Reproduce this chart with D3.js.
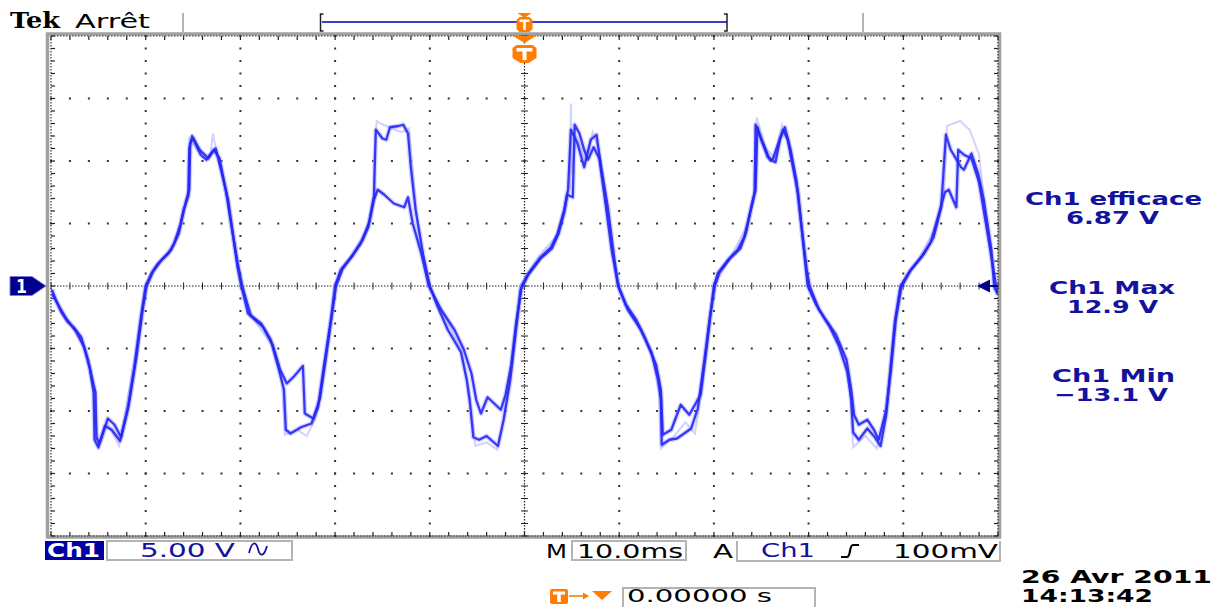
<!DOCTYPE html>
<html><head><meta charset="utf-8">
<script src="https://cdn.jsdelivr.net/npm/d3@7"></script>
<style>body{margin:0;background:#fff}svg{display:block}</style>
</head><body>
<svg id="c" width="1229" height="607"></svg>
<script>
// ---- data ----
const timeGrid = [-50,-40,-30,-20,-10,0,10,20,30,40,50];      // ms, 10 ms/div
const voltGrid = [-20,-15,-10,-5,0,5,10,15,20];               // V, 5 V/div
const measureLabels = ["Ch1 efficace","Ch1 Max","Ch1 Min"];
const measureValues = ["6.87 V","12.9 V","\u221213.1 V"];
const channelInfo = ["Ch1","5.00 V"];
const timebaseInfo = ["M","10.0ms","A","Ch1","100mV"];
const triggerOffset = "0.00000 s";
const dateInfo = ["26 Avr  2011","14:13:42"];

const traceA = [
[-49.9,-0.3],[-49.5,-1.1],[-48.9,-2.1],[-48.2,-2.9],[-47.6,-3.3],[-46.8,-4.1],[-46.1,-5.9],[-45.5,-7.9],[-45.3,-8.5],[-45.2,-12.1],[-44.9,-12.6],[-44.4,-11.5],[-44.0,-10.6],[-43.3,-11.1],[-42.6,-12.1],[-41.9,-9.9],[-41.2,-6.5],[-40.5,-2.5],[-40.0,0],
[-39.4,1.0],[-38.7,1.8],[-37.6,2.6],[-37.0,3.4],[-36.3,5.0],[-35.7,6.9],[-35.4,7.7],[-35.3,11.4],[-35.0,11.8],[-34.2,10.5],[-33.6,10.1],[-33.1,10.6],[-32.6,11.0],[-31.8,8.5],[-31.3,6.9],[-30.8,4.2],[-30.3,1.5],[-29.9,0],
[-29.2,-2.2],[-27.8,-3.0],[-26.8,-4.3],[-26.0,-6.5],[-25.4,-8.3],[-25.2,-11.5],[-24.7,-11.8],[-23.6,-11.3],[-22.5,-11.0],[-21.8,-9.7],[-21.2,-6.5],[-20.4,-2.5],[-20.0,0],
[-19.4,1.3],[-18.3,2.3],[-17.3,3.4],[-16.5,4.7],[-15.9,6.9],[-15.5,7.7],[-14.8,7.3],[-13.8,6.6],[-12.7,6.3],[-12.3,7.1],[-11.8,5.0],[-10.9,2.6],[-10.1,0],
[-8.8,-1.9],[-7.4,-3.5],[-6.4,-5.1],[-5.6,-7.0],[-5.1,-9.1],[-4.6,-10.2],[-3.9,-8.9],[-2.5,-9.9],[-2.0,-8.7],[-1.4,-6.3],[-0.9,-3.1],[-0.3,0],
[0.4,1.0],[1.7,2.3],[2.8,3.1],[3.5,4.2],[4.2,6.1],[4.6,7.7],[4.9,12.5],[5.6,11.4],[6.3,9.5],[7.0,11.7],[7.6,12.1],[8.1,9.5],[8.8,6.3],[9.5,2.1],[9.9,0],
[10.7,-1.5],[11.8,-2.7],[12.8,-4.3],[13.9,-6.3],[14.4,-8.3],[14.6,-11.9],[15.5,-11.5],[16.5,-9.5],[17.4,-10.3],[18.6,-8.7],[19.2,-5.1],[19.7,-1.9],[20.0,0],
[20.4,1.0],[21.5,2.1],[22.5,2.9],[23.2,3.9],[23.9,6.1],[24.4,7.7],[24.6,12.7],[25.0,11.7],[25.7,10.3],[26.2,10.1],[26.8,11.4],[27.3,12.5],[27.8,11.7],[28.4,9.3],[28.9,7.4],[29.5,2.9],[29.9,0],
[30.8,-1.5],[31.8,-2.7],[32.9,-3.9],[34.0,-5.9],[34.5,-8.3],[34.8,-10.3],[35.3,-11.1],[36.2,-10.7],[36.9,-11.5],[37.4,-12.3],[38.2,-9.9],[38.7,-6.7],[39.2,-2.7],[39.8,-0.1],
[40.8,1.3],[42.2,2.6],[43.2,3.9],[44.0,6.3],[44.5,12.1],[45.0,10.9],[46.1,9.5],[46.4,9.3],[47.2,10.6],[47.9,9.0],[48.5,6.9],[49.3,2.9],[49.6,-0.1],[50.0,-0.7]
];
const traceB = [
[-49.9,-0.6],[-49.1,-1.7],[-48.4,-2.6],[-47.4,-3.6],[-46.5,-4.9],[-45.9,-6.6],[-45.5,-8.5],[-45.4,-12.3],[-45.0,-12.9],[-44.3,-11.2],[-43.6,-11.5],[-42.7,-12.4],[-41.8,-9.5],[-41.0,-5.8],[-40.3,-1.8],[-39.9,0],
[-39.2,1.2],[-38.3,2.1],[-37.3,2.9],[-36.5,4.2],[-36.0,6.1],[-35.5,7.2],[-35.4,11.0],[-35.1,12.0],[-34.3,10.9],[-33.4,10.2],[-32.8,10.9],[-32.2,10.2],[-31.5,7.5],[-30.9,4.6],[-30.3,1.9],[-29.8,0],
[-28.9,-2.4],[-27.6,-3.3],[-26.6,-4.7],[-25.8,-6.7],[-25.1,-7.8],[-24.3,-7.2],[-23.4,-6.4],[-23.2,-10.2],[-22.3,-10.6],[-21.6,-9.0],[-21.0,-5.9],[-20.3,-2.1],[-19.9,0],
[-19.2,1.4],[-18.1,2.5],[-17.1,3.7],[-16.4,5.1],[-15.9,7.2],[-15.7,12.5],[-15.0,11.8],[-14.6,11.7],[-14.2,12.7],[-13.3,12.8],[-12.8,12.9],[-12.3,12.2],[-12.0,9.5],[-11.5,6.1],[-10.7,2.5],[-10.0,0],
[-9.2,-1.6],[-8.1,-3.5],[-6.7,-5.3],[-6.1,-7.5],[-5.8,-9.1],[-5.4,-12.1],[-4.8,-12.3],[-4.0,-12.0],[-2.8,-12.8],[-2.2,-10.7],[-1.5,-7.5],[-0.9,-3.5],[-0.4,-0.3],
[0.4,0.9],[1.7,2.2],[2.9,3.0],[3.6,4.2],[4.2,5.9],[4.5,7.3],[5.1,7.1],[5.3,12.9],[5.8,12.2],[6.3,10.9],[6.7,10.1],[7.3,11.1],[7.9,10.2],[8.5,6.9],[9.2,2.9],[9.9,0],
[10.9,-1.9],[12.3,-3.5],[13.4,-5.3],[14.1,-7.5],[14.4,-9.1],[14.5,-12.7],[15.3,-12.3],[16.1,-12.2],[17.6,-11.4],[18.3,-9.8],[19.0,-5.9],[19.6,-2.4],[20.1,0],
[20.6,1.1],[21.7,2.2],[22.8,3.0],[23.4,4.3],[24.0,6.5],[24.3,7.5],[24.4,12.9],[25.2,11.4],[25.9,10.1],[26.5,9.9],[27.0,11.8],[27.5,12.7],[28.1,10.9],[28.7,8.5],[29.2,5.1],[29.8,1.3],[30.1,0],
[31.1,-1.9],[32.2,-3.2],[33.2,-4.8],[34.1,-6.9],[34.5,-9.1],[34.7,-11.7],[35.3,-12.3],[36.2,-11.4],[37.0,-12.1],[37.6,-12.8],[38.2,-10.3],[38.6,-6.9],[39.1,-2.9],[39.7,0],
[40.6,1.1],[41.9,2.3],[42.9,3.5],[43.8,5.9],[44.4,7.5],[44.8,7.7],[45.6,6.3],[45.8,10.9],[46.4,10.5],[47.2,10.2],[48.0,8.3],[48.7,5.1],[49.4,1.9],[49.8,0],[50.0,-0.5]
];
const traceC = [
[-49.9,-0.4],[-48.5,-2.6],[-47.0,-3.9],[-46.0,-6.0],[-45.3,-9.5],[-45.0,-13.1],[-44.0,-11.0],[-42.8,-12.8],[-41.9,-9.0],[-41.0,-5.0],[-40.1,0],
[-38.5,2.0],[-37.0,3.3],[-35.8,6.5],[-35.4,8.0],[-35.4,11.8],[-34.5,10.8],[-33.2,10.4],[-32.9,12.2],[-32.6,11.0],[-31.6,8.0],[-30.6,3.0],[-30.0,0],
[-28.5,-2.8],[-26.5,-4.9],[-25.6,-7.5],[-25.3,-11.9],[-24.0,-11.5],[-23.0,-12.0],[-22.0,-10.5],[-21.0,-6.0],[-20.1,0],
[-18.5,2.2],[-16.6,4.6],[-15.8,7.4],[-15.9,10.0],[-15.6,13.2],[-15.2,13.0],[-14.0,12.6],[-13.0,12.3],[-12.2,12.6],[-11.9,10.0],[-11.3,5.0],[-10.2,0],
[-8.5,-2.3],[-6.8,-5.0],[-5.9,-8.0],[-5.5,-10.5],[-5.2,-12.8],[-4.0,-12.5],[-2.9,-13.1],[-2.3,-11.0],[-1.4,-6.5],[-0.5,0],
[1.5,2.4],[3.3,3.9],[4.3,6.5],[4.8,8.0],[4.9,14.6],[5.0,9.0],[5.5,12.0],[6.4,10.0],[7.2,12.3],[7.8,11.0],[8.7,6.0],[9.8,0],
[11.5,-2.4],[13.5,-5.6],[14.2,-8.5],[14.4,-13.0],[15.8,-12.0],[17.0,-10.9],[18.0,-11.8],[18.8,-8.0],[19.4,-3.5],[20.0,0],
[21.8,2.4],[23.5,4.8],[24.3,7.4],[24.5,13.5],[25.5,11.0],[26.4,10.3],[27.2,12.9],[28.2,10.5],[29.0,6.0],[30.0,0],
[31.5,-2.5],[33.5,-5.0],[34.4,-8.5],[34.7,-12.9],[36.0,-12.0],[37.2,-13.0],[38.0,-10.5],[39.0,-4.5],[39.7,0],
[41.5,2.0],[43.5,4.8],[44.3,7.5],[44.6,12.8],[46.0,13.2],[47.0,12.5],[48.0,10.5],[48.8,5.0],[49.5,1.0],[50.0,-0.9]
];

// ---- drawing ----
const svg = d3.select("#c");
const x = d3.scaleLinear().domain([-50,50]).range([51,998]);
const y = d3.scaleLinear().domain([-20,20]).range([536,36]);
const ORANGE = "#ff7d00", DKBLUE = "#00008c", TXTBLUE = "#12129e";
const FONT = "DejaVu Sans, Verdana, sans-serif";

function txt(g, tx, ty, s, w, opt={}) {
  return g.append("text").attr("x",tx).attr("y",ty).text(s)
    .attr("font-family", opt.family||FONT).attr("font-size", opt.size||20)
    .attr("font-weight", opt.weight||"bold").attr("fill", opt.fill||"#000")
    .attr("textLength", w).attr("lengthAdjust","spacingAndGlyphs");
}
function txt2(g, lines, opt={}) {
  const t = g.append("text").attr("font-family", opt.family||FONT).attr("font-size", opt.size||18)
    .attr("font-weight", opt.weight||"bold").attr("fill", opt.fill||"#000");
  lines.forEach(l => t.append("tspan").attr("x",l[0]).attr("y",l[1]).text(l[2])
    .attr("textLength",l[3]).attr("lengthAdjust","spacingAndGlyphs"));
  return t;
}

// frame
svg.append("rect").attr("x",47.5).attr("y",34).attr("width",952).attr("height",503)
  .attr("fill","none").attr("stroke","#a0a0a0").attr("stroke-width",3.5);

const grid = svg.append("g");
const minorT = d3.range(-50, 50.01, 2), minorV = d3.range(-20, 20.01, 1);
timeGrid.filter(t => t!==0 && Math.abs(t)!==50).forEach(t => {
  minorV.forEach(v => grid.append("rect").attr("x",x(t)-1).attr("y",y(v)-1).attr("width",2).attr("height",2).attr("fill","#333"));
});
voltGrid.filter(v => v!==0 && Math.abs(v)!==20).forEach(v => {
  minorT.forEach(t => grid.append("rect").attr("x",x(t)-1).attr("y",y(v)-1).attr("width",2).attr("height",2).attr("fill","#333"));
});
grid.append("line").attr("x1",x(-50)).attr("x2",x(50)).attr("y1",y(0)).attr("y2",y(0))
  .attr("stroke","#222").attr("stroke-width",1.2).attr("stroke-dasharray","1.5,1.5");
grid.append("line").attr("x1",x(0)).attr("x2",x(0)).attr("y1",y(20)).attr("y2",y(-20))
  .attr("stroke","#222").attr("stroke-width",1.2).attr("stroke-dasharray","1.5,1.5");
minorT.forEach(t => {
  grid.append("line").attr("x1",x(t)).attr("x2",x(t)).attr("y1",y(0)-3.5).attr("y2",y(0)+3.5).attr("stroke","#222").attr("stroke-width",1);
  grid.append("line").attr("x1",x(t)).attr("x2",x(t)).attr("y1",y(20)).attr("y2",y(20)+4).attr("stroke","#222").attr("stroke-width",1.2);
  grid.append("line").attr("x1",x(t)).attr("x2",x(t)).attr("y1",y(-20)-4).attr("y2",y(-20)).attr("stroke","#222").attr("stroke-width",1.2);
});
minorV.forEach(v => {
  grid.append("line").attr("y1",y(v)).attr("y2",y(v)).attr("x1",x(0)-3.5).attr("x2",x(0)+3.5).attr("stroke","#222").attr("stroke-width",1);
  grid.append("line").attr("y1",y(v)).attr("y2",y(v)).attr("x1",x(-50)).attr("x2",x(-50)+4).attr("stroke","#222").attr("stroke-width",1.2);
  grid.append("line").attr("y1",y(v)).attr("y2",y(v)).attr("x1",x(50)-4).attr("x2",x(50)).attr("stroke","#222").attr("stroke-width",1.2);
});
[[x(-50),y(20),x(50),y(20)],[x(-50),y(-20),x(50),y(-20)],[x(-50),y(20),x(-50),y(-20)],[x(50),y(20),x(50),y(-20)]].forEach(l=>{
  grid.append("line").attr("x1",l[0]).attr("y1",l[1]).attr("x2",l[2]).attr("y2",l[3])
    .attr("stroke","#333").attr("stroke-width",1.2).attr("stroke-dasharray","1.5,1.5");
});

// traces
svg.append("clipPath").attr("id","clip").append("rect").attr("x",x(-50)).attr("y",y(20)).attr("width",x(50)-x(-50)).attr("height",y(-20)-y(20));
const line = d3.line().x(d=>x(d[0])).y(d=>y(d[1]));
const tg = svg.append("g").attr("clip-path","url(#clip)");
tg.append("path").datum(traceC).attr("d",line).attr("fill","none").attr("stroke","#b4b4ff").attr("stroke-width",2).attr("stroke-opacity",0.6);
[traceA, traceB].forEach(tr => {
  tg.append("path").datum(tr).attr("d",line).attr("fill","none").attr("stroke","#8c8cff").attr("stroke-width",5).attr("stroke-opacity",0.35).attr("stroke-linejoin","round");
});
[traceA, traceB].forEach(tr => {
  tg.append("path").datum(tr).attr("d",line).attr("fill","none").attr("stroke","#2626f4").attr("stroke-width",2.3).attr("stroke-opacity",0.9).attr("stroke-linejoin","round");
});

// top bar
txt(svg, 10, 28, "Tek", 50, {family:"DejaVu Serif, serif", size:22, weight:"bold"});
txt(svg, 75, 28, "Arr\u00eat", 75, {size:20, weight:"normal"});
[183, 863].forEach(px => svg.append("line").attr("x1",px).attr("x2",px).attr("y1",13).attr("y2",34).attr("stroke","#b4b4b4").attr("stroke-width",2));
svg.append("path").attr("d","M323.5,14 L320.5,14 L320.5,31 L323.5,31").attr("fill","none").attr("stroke","#222").attr("stroke-width",1.5);
svg.append("path").attr("d","M724,14 L727,14 L727,31 L724,31").attr("fill","none").attr("stroke","#222").attr("stroke-width",1.5);
svg.append("line").attr("x1",322).attr("x2",727).attr("y1",22).attr("y2",22).attr("stroke","#0000b0").attr("stroke-width",1.6);
const tx0 = x(0);
svg.append("path").attr("d",`M${tx0-7},13 L${tx0+7},13 L${tx0},18 Z`).attr("fill",ORANGE);
svg.append("path").attr("d",`M${tx0-5},17 L${tx0+5},17 L${tx0+8},20 L${tx0+8},29 L${tx0+5},32 L${tx0-5},32 L${tx0-8},29 L${tx0-8},20 Z`).attr("fill",ORANGE);
svg.append("path").attr("d",`M${tx0-5},19.5 L${tx0+5},19.5 L${tx0+5},22 L${tx0+1.3},22 L${tx0+1.3},30 L${tx0-1.3},30 L${tx0-1.3},22 L${tx0-5},22 Z`).attr("fill","#fff");
svg.append("path").attr("d",`M${tx0-11.5},36 L${tx0+11.5},36 L${tx0},43 Z`).attr("fill",ORANGE);
svg.append("path").attr("d",`M${tx0-8},45 L${tx0+8},45 L${tx0+12},48 L${tx0+12},58 L${tx0+4},63 L${tx0-4},63 L${tx0-12},58 L${tx0-12},48 Z`).attr("fill",ORANGE);
svg.append("path").attr("d",`M${tx0-8},48 L${tx0+8},48 L${tx0+8},51.5 L${tx0+2},51.5 L${tx0+2},60 L${tx0-2},60 L${tx0-2},51.5 L${tx0-8},51.5 Z`).attr("fill","#fff");

// channel 1 ground marker
svg.append("path").attr("d",`M10,${y(0)-9.5} L32,${y(0)-9.5} L46,${y(0)} L32,${y(0)+9.5} L10,${y(0)+9.5} Z`).attr("fill",DKBLUE).attr("stroke","#7a7ad0").attr("stroke-width",1);
txt(svg, 16, y(0)+7, "1", 11, {size:19, fill:"#fff"});
svg.append("path").attr("d",`M977,${y(0)} L990,${y(0)-6.5} L990,${y(0)+6.5} Z`).attr("fill",DKBLUE);
svg.append("line").attr("x1",988).attr("x2",998).attr("y1",y(0)).attr("y2",y(0)).attr("stroke",DKBLUE).attr("stroke-width",2);

// measurements (label + value in one text block)
const mPos = [[1025,205,177,1066,224,93],[1049,294,126,1067,313,91],[1052,382,123,1054,401,114]];
measureLabels.forEach((m,i) => {
  const p = mPos[i];
  txt2(svg, [[p[0],p[1],m,p[2]],[p[3],p[4],measureValues[i],p[5]]], {fill:TXTBLUE, size:18});
});

// bottom bar
svg.append("rect").attr("x",45).attr("y",541).attr("width",59).attr("height",19).attr("fill","#0000a0");
txt(svg, 47, 557, channelInfo[0], 53, {fill:"#fff", size:19});
svg.append("rect").attr("x",107).attr("y",541).attr("width",185).attr("height",19).attr("fill","none").attr("stroke","#b4b4b4").attr("stroke-width",2);
txt(svg, 140, 557, channelInfo[1], 95, {fill:TXTBLUE, weight:"normal", size:19});
svg.append("path").attr("d","M249,553 C252,541 256,541 258,549 C260,557 264,557 267,546").attr("fill","none").attr("stroke",TXTBLUE).attr("stroke-width",1.8);
txt(svg, 546, 558, timebaseInfo[0], 21, {weight:"normal", size:19});
svg.append("rect").attr("x",572).attr("y",541).attr("width",114).attr("height",19).attr("fill","none").attr("stroke","#b4b4b4").attr("stroke-width",2);
txt(svg, 577, 558, timebaseInfo[1], 106, {weight:"normal", size:19});
txt(svg, 713, 558, timebaseInfo[2], 20, {weight:"normal", size:19});
svg.append("path").attr("d","M737,541 L737,561 L1000,561 L1000,541").attr("fill","none").attr("stroke","#b4b4b4").attr("stroke-width",2);
txt(svg, 761, 557, timebaseInfo[3], 54, {fill:TXTBLUE, weight:"normal", size:19});
svg.append("path").attr("d","M841,557 L847,557 Q849,557 850,551 Q851,545 853,545 L859,545").attr("fill","none").attr("stroke","#000").attr("stroke-width",2.2);
txt(svg, 893, 558, timebaseInfo[4], 105, {weight:"normal", size:19});

// trigger offset
svg.append("rect").attr("x",550).attr("y",589).attr("width",18).attr("height",15).attr("rx",2).attr("fill",ORANGE);
svg.append("path").attr("d","M553,591.5 L565,591.5 L565,594.5 L560.8,594.5 L560.8,602 L557.2,602 L557.2,594.5 L553,594.5 Z").attr("fill","#fff");
svg.append("line").attr("x1",569).attr("x2",585).attr("y1",596).attr("y2",596).attr("stroke",ORANGE).attr("stroke-width",1.6);
svg.append("path").attr("d","M589,596 L583,592.5 L583,599.5 Z").attr("fill",ORANGE);
svg.append("path").attr("d","M592,591 L612,591 L602,600 Z").attr("fill",ORANGE);
svg.append("rect").attr("x",623).attr("y",588).attr("width",192).attr("height",22).attr("fill","none").attr("stroke","#b4b4b4").attr("stroke-width",2);
txt(svg, 627, 602, triggerOffset, 145, {weight:"normal", size:18});

// date / time
txt2(svg, [[1021,583,dateInfo[0],191],[1021,602,dateInfo[1],132]], {size:18});
</script>
</body></html>
